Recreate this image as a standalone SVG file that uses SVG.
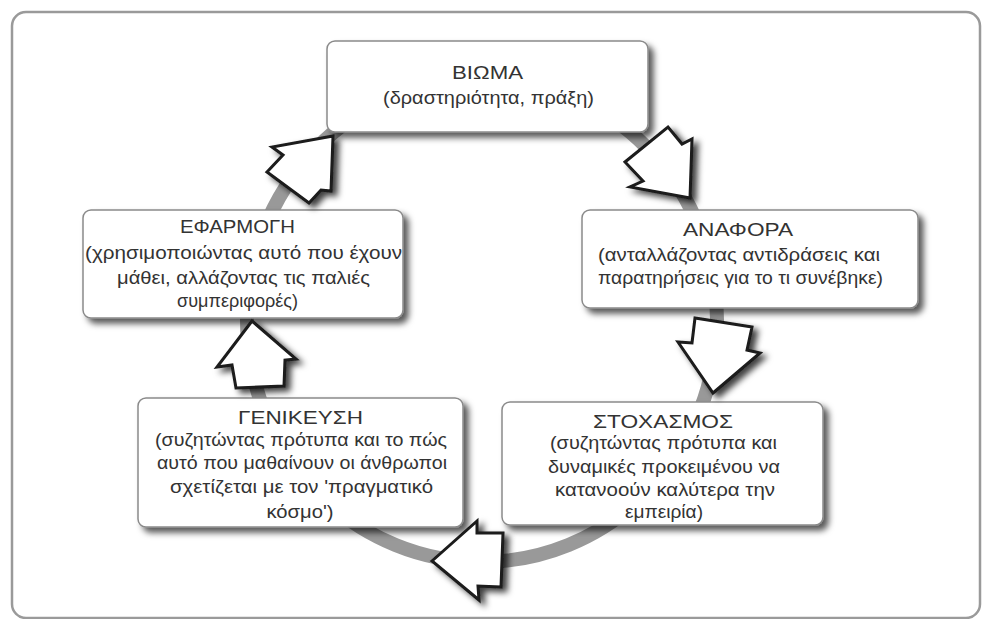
<svg xmlns="http://www.w3.org/2000/svg" width="984" height="619" viewBox="0 0 984 619">
<defs>
<filter id="sh" x="-20%" y="-20%" width="150%" height="150%">
<feDropShadow dx="5" dy="5" stdDeviation="3" flood-color="#000" flood-opacity="0.65"/>
</filter>
<filter id="ash" x="-30%" y="-30%" width="170%" height="170%">
<feDropShadow dx="5" dy="4" stdDeviation="3" flood-color="#000" flood-opacity="0.75"/>
</filter>
<style>
.box{fill:#fff;stroke:#8a8a8a;stroke-width:1.5;filter:url(#sh)}
.t{font-family:"Liberation Sans",Arial,sans-serif;fill:#333;text-anchor:middle}
.h{font-size:19px}
.b{font-size:17.5px}
.arr{fill:#fff;stroke:#1a1a1a;stroke-width:3;stroke-linejoin:miter;filter:url(#ash)}
</style>
</defs>
<rect x="12" y="12" width="968" height="606" rx="14" fill="#fff" stroke="#9a9a9a" stroke-width="2.5"/>
<g id="cycle">
<ellipse cx="482" cy="320" rx="235" ry="242" fill="none" stroke="#999" stroke-width="14"/>
</g>
<g id="n-bioma">
<rect class="box" x="327" y="41" width="321" height="91" rx="8"/>
<text class="t h" x="487.5" y="79" textLength="71" lengthAdjust="spacingAndGlyphs">ΒΙΩΜΑ</text>
<text class="t b" x="488.5" y="104" textLength="211" lengthAdjust="spacingAndGlyphs">(δραστηριότητα, πράξη)</text>
</g>
<g id="n-efarmogi">
<rect class="box" x="83" y="210" width="320" height="108" rx="8"/>
<text class="t h" x="237.5" y="233" textLength="115" lengthAdjust="spacingAndGlyphs">ΕΦΑΡΜΟΓΗ</text>
<text class="t b" x="243.5" y="259" textLength="317" lengthAdjust="spacingAndGlyphs">(χρησιμοποιώντας αυτό που έχουν</text>
<text class="t b" x="243.5" y="284" textLength="253" lengthAdjust="spacingAndGlyphs">μάθει, αλλάζοντας τις παλιές</text>
<text class="t b" x="237.5" y="307" textLength="121" lengthAdjust="spacingAndGlyphs">συμπεριφορές)</text>
</g>
<g id="n-anafora">
<rect class="box" x="582" y="210" width="336" height="98" rx="8"/>
<text class="t h" x="738" y="236" textLength="110" lengthAdjust="spacingAndGlyphs">ΑΝΑΦΟΡΑ</text>
<text class="t b" x="739" y="261" textLength="282" lengthAdjust="spacingAndGlyphs">(ανταλλάζοντας αντιδράσεις και</text>
<text class="t b" x="740.5" y="284" textLength="285" lengthAdjust="spacingAndGlyphs">παρατηρήσεις για το τι συνέβηκε)</text>
</g>
<g id="n-genikeusi">
<rect class="box" x="138" y="398" width="325" height="129" rx="8"/>
<text class="t h" x="300.5" y="424" textLength="125" lengthAdjust="spacingAndGlyphs">ΓΕΝΙΚΕΥΣΗ</text>
<text class="t b" x="301" y="446" textLength="292" lengthAdjust="spacingAndGlyphs">(συζητώντας πρότυπα και το πώς</text>
<text class="t b" x="302" y="469" textLength="290" lengthAdjust="spacingAndGlyphs">αυτό που μαθαίνουν οι άνθρωποι</text>
<text class="t b" x="301.5" y="493" textLength="263" lengthAdjust="spacingAndGlyphs">σχετίζεται με τον 'πραγματικό</text>
<text class="t b" x="300" y="518" textLength="67" lengthAdjust="spacingAndGlyphs">κόσμο')</text>
</g>
<g id="n-stochasmos">
<rect class="box" x="502" y="402" width="321" height="123" rx="8"/>
<text class="t h" x="663" y="428" textLength="140" lengthAdjust="spacingAndGlyphs">ΣΤΟΧΑΣΜΟΣ</text>
<text class="t b" x="663.5" y="449" textLength="227" lengthAdjust="spacingAndGlyphs">(συζητώντας πρότυπα και</text>
<text class="t b" x="664" y="473" textLength="232" lengthAdjust="spacingAndGlyphs">δυναμικές προκειμένου να</text>
<text class="t b" x="665" y="496" textLength="220" lengthAdjust="spacingAndGlyphs">κατανοούν καλύτερα την</text>
<text class="t b" x="664" y="518" textLength="78" lengthAdjust="spacingAndGlyphs">εμπειρία)</text>
</g>
<g id="connectors">
<polygon class="arr" points="690,198 692,139 682,144 668,127 625,162 643,181 630,187"/>
<polygon class="arr" points="713,393 760,353 747,350 752,327 695,318 692,343 678,342"/>
<polygon class="arr" points="432,561 477,521 477,533 503,533 501,587 478,586 479,600"/>
<polygon class="arr" points="252,321 296,359 285,360 284,386 236,388 232,365 217,367"/>
<polygon class="arr" points="333,136 272,147 283,155 267,172 309,203 321,190 331,191"/>
</g>
</svg>
